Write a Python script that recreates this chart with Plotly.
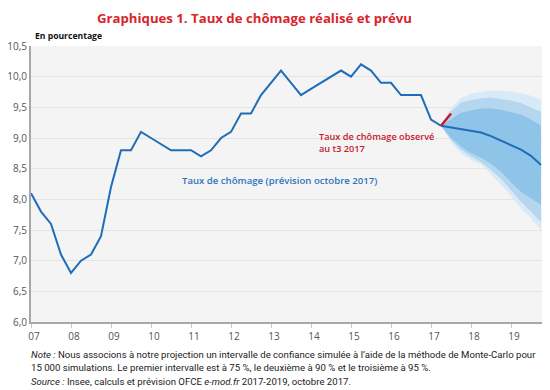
import plotly.graph_objects as go

# Quarterly data, 2007 T1 .. 2017 T2 (observed / realised)
start_year = 2007
hist_values = [8.1, 7.8, 7.6, 7.1, 6.8, 7.0, 7.1, 7.4, 8.2, 8.8,
               8.8, 9.1, 9.0, 8.9, 8.8, 8.8, 8.8, 8.7, 8.8, 9.0,
               9.1, 9.4, 9.4, 9.7, 9.9, 10.1, 9.9, 9.7, 9.8, 9.9,
               10.0, 10.1, 10.0, 10.2, 10.1, 9.9, 9.9, 9.7, 9.7, 9.7,
               9.3, 9.2]
# Forecast 2017 T2 .. 2019 T4
fc_central = [9.2, 9.17, 9.14, 9.12, 9.09, 9.03, 8.96, 8.89, 8.81, 8.71, 8.56]
fc_up95 = [9.2, 9.49, 9.65, 9.72, 9.75, 9.77, 9.77, 9.76, 9.73, 9.69, 9.63]
fc_up90 = [9.2, 9.43, 9.58, 9.62, 9.65, 9.66, 9.64, 9.61, 9.57, 9.50, 9.43]
fc_up75 = [9.2, 9.31, 9.41, 9.45, 9.48, 9.48, 9.46, 9.42, 9.38, 9.30, 9.20]
fc_lo75 = [9.2, 9.00, 8.86, 8.75, 8.68, 8.58, 8.45, 8.28, 8.12, 8.02, 7.91]
fc_lo90 = [9.2, 8.97, 8.81, 8.70, 8.61, 8.48, 8.33, 8.15, 7.96, 7.80, 7.63]
fc_lo95 = [9.2, 8.94, 8.75, 8.64, 8.57, 8.41, 8.24, 8.06, 7.85, 7.69, 7.50]
# Observed rate, 2017 T2 -> 2017 T3
obs_values = [9.2, 9.4]

year_ticks = list(range(2007, 2020))
year_labels = ["07", "08", "09", "10", "11", "12", "13", "14", "15", "16", "17", "18", "19"]
y_ticks = [6.0, 6.5, 7.0, 7.5, 8.0, 8.5, 9.0, 9.5, 10.0, 10.5]
y_labels = ["6,0", "6,5", "7,0", "7,5", "8,0", "8,5", "9,0", "9,5", "10,0", "10,5"]

x_hist = [start_year + i / 4 for i in range(len(hist_values))]
fc_start = len(hist_values) - 1
x_fc = [start_year + (fc_start + i) / 4 for i in range(len(fc_central))]
x_obs = [x_hist[-1], x_hist[-1] + 0.25]

BLUE = "#1f6db8"
RED = "#c8182c"
FONT = "Open Sans"

fig = go.Figure()

def band(up, lo, color):
    fig.add_trace(go.Scatter(
        x=x_fc + x_fc[::-1], y=up + lo[::-1], fill="toself", fillcolor=color,
        line=dict(width=0), mode="lines", hoverinfo="skip", showlegend=False))

band(fc_up95, fc_lo95, "#d8eaf7")
band(fc_up90, fc_lo90, "#b4d7ef")
band(fc_up75, fc_lo75, "#8ec4e8")

fig.add_trace(go.Scatter(x=x_hist, y=hist_values, mode="lines",
                         line=dict(color=BLUE, width=2), showlegend=False))
fig.add_trace(go.Scatter(x=x_fc, y=fc_central, mode="lines",
                         line=dict(color=BLUE, width=2), showlegend=False))
fig.add_trace(go.Scatter(x=x_obs, y=obs_values, mode="lines",
                         line=dict(color=RED, width=2.5), showlegend=False))

# page body has an 8px margin: figure is 542x382 placed at (8,8)
PW, PH = 512, 276
fig.update_layout(
    width=542, height=382,
    margin=dict(l=23, r=7, t=38, b=68, autoexpand=False),
    paper_bgcolor="white", plot_bgcolor="#f4f4f4",
    font=dict(family=FONT, size=10, color="#555555"),
    showlegend=False,
)
fig.update_xaxes(
    range=[2007, 2019.8], tickvals=year_ticks, ticktext=year_labels,
    showgrid=False, zeroline=False, automargin=False,
    showline=True, linecolor="#a8a8a8", linewidth=2,
    ticks="outside", ticklen=4, tickcolor="#c8c8c8", tickwidth=1,
    ticklabelshift=3, tickfont=dict(size=10, color="#555555"),
)
fig.update_yaxes(
    range=[6.0, 10.5], tickvals=y_ticks, ticktext=y_labels,
    showgrid=True, gridcolor="#e4e4e4", gridwidth=1, zeroline=False, automargin=False,
    showline=True, linecolor="#a8a8a8", linewidth=2,
    ticks="", tickfont=dict(size=10, color="#555555"),
)

def px_x(px):
    return (px - 31) / PW

def px_y(py):
    return 1 - (py - 46) / PH

fig.add_annotation(text="Graphiques 1. Taux de chômage réalisé et prévu",
                   xref="paper", yref="paper", x=px_x(254), y=px_y(8),
                   xanchor="center", yanchor="top", showarrow=False, borderpad=0,
                   font=dict(family=FONT, size=13.2, color="#d7262b", weight=700))
fig.add_annotation(text="En pourcentage", xref="paper", yref="paper",
                   x=px_x(33), y=px_y(36), xanchor="left", yanchor="middle",
                   showarrow=False, font=dict(family=FONT, size=8.6, color="#111111", weight=700))
fig.add_annotation(text="Taux de chômage (prévision octobre 2017)", x=2010.72, y=8.3,
                   xanchor="left", yanchor="middle", showarrow=False,
                   font=dict(family=FONT, size=9.6, color="#2e72bd", weight=600))
fig.add_annotation(text="Taux de chômage observé<br>au t3 2017", x=2014.14, y=8.93,
                   xanchor="left", yanchor="middle", showarrow=False, align="left",
                   font=dict(family=FONT, size=9.2, color=RED, weight=600))

notes = [
    ("<i>Note :</i> Nous associons à notre projection un intervalle de confiance simulée à l’aide de la méthode de Monte-Carlo pour", 354),
    ("15 000 simulations. Le premier intervalle est à 75 %, le deuxième à 90 % et le troisième à 95 %.", 367),
    ("<i>Source :</i> Insee, calculs et prévision OFCE <i>e-mod.fr</i> 2017-2019, octobre 2017.", 381),
]
for txt, ypx in notes:
    fig.add_annotation(text=txt, xref="paper", yref="paper",
                       x=px_x(29), y=px_y(ypx), xanchor="left", yanchor="middle",
                       showarrow=False, font=dict(family="Roboto", size=9.6, color="#222222"))

fig.write_html("out.html")
